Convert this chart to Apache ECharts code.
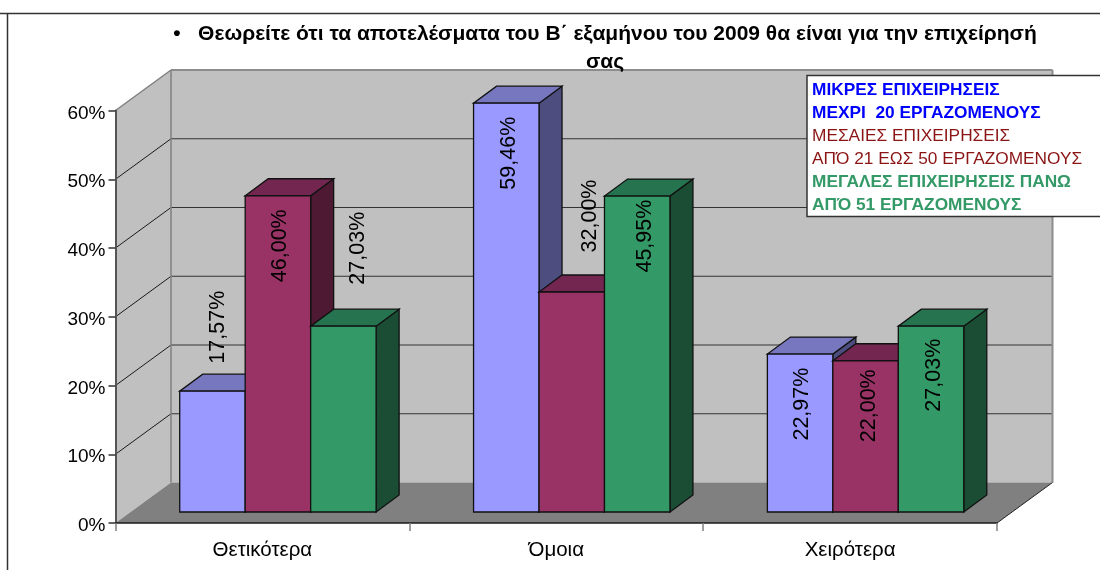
<!DOCTYPE html>
<html>
<head>
<meta charset="utf-8">
<style>html,body{margin:0;padding:0;background:#fff}#c{width:1100px;height:570px}</style>
<script src="https://cdn.jsdelivr.net/npm/echarts@6/dist/echarts.min.js"></script>
</head>
<body>
<div id="c"></div>
<script>
const categories = ['Θετικότερα', 'Όμοια', 'Χειρότερα'];
const small = [17.57, 59.46, 22.97];
const medium = [46.00, 32.00, 22.00];
const large = [27.03, 45.95, 27.03];
const smallName = 'ΜΙΚΡΕΣ ΕΠΙΧΕΙΡΗΣΕΙΣ\nΜΕΧΡΙ  20 ΕΡΓΑΖΟΜΕΝΟΥΣ';
const mediumName = 'ΜΕΣΑΙΕΣ ΕΠΙΧΕΙΡΗΣΕΙΣ\nΑΠΌ 21 ΕΩΣ 50 ΕΡΓΑΖΟΜΕΝΟΥΣ';
const largeName = 'ΜΕΓΑΛΕΣ ΕΠΙΧΕΙΡΗΣΕΙΣ ΠΑΝΩ\nΑΠΌ 51 ΕΡΓΑΖΟΜΕΝΟΥΣ';
const titleText = '•   Θεωρείτε ότι τα αποτελέσματα του Β΄ εξαμήνου του 2009 θα είναι για την επιχείρησή\nσας';
const yTicks = [0, 10, 20, 30, 40, 50, 60];

// hand-placed data label offsets from the bar's top centre [dx, dy], per series and category
const smallLabelOffsets = [[6, -64], [3, 50], [2, 50]];
const mediumLabelOffsets = [[2, 50], [18, -76], [3, 45]];
const largeLabelOffsets = [[15, -78], [8, 40], [3, 49]];

const wallDepth = [55.5, -40.5];
const barInset = [15.5, -11];
const barDepth = [23, -17];
const barRatio = 65.5 / 294;
const fmt = v => v.toFixed(2).replace('.', ',') + '%';

function poly(points, fill, stroke, lw) {
  return { type: 'polygon', shape: { points }, style: { fill, stroke: stroke || null, lineWidth: lw || 0 } };
}
function seg(a, b, stroke, lw) {
  return { type: 'line', shape: { x1: a[0], y1: a[1], x2: b[0], y2: b[1] }, style: { stroke, lineWidth: lw, fill: null } };
}

function renderWalls(params, api) {
  const cs = params.coordSys;
  const x0 = cs.x, x1 = cs.x + cs.width;
  const yAt = v => api.coord([0, v])[1];
  const y0 = yAt(0), yT = yAt(yTicks[yTicks.length - 1]);
  const [dx, dy] = wallDepth;
  const kids = [
    poly([[x0 + dx, yT + dy], [x1 + dx, yT + dy], [x1 + dx, y0 + dy], [x0 + dx, y0 + dy]], '#C0C0C0'),
    poly([[x0, yT], [x0 + dx, yT + dy], [x0 + dx, y0 + dy], [x0, y0]], '#C0C0C0')
  ];
  yTicks.slice(1, -1).forEach(v => {
    const y = yAt(v);
    kids.push(seg([x0, y], [x0 + dx, y + dy], '#1a1a1a', 1));
    kids.push(seg([x0 + dx, y + dy], [x1 + dx, y + dy], '#333333', 1));
  });
  kids.push(poly([[x0, y0], [x1, y0], [x1 + dx, y0 + dy], [x0 + dx, y0 + dy]], '#808080'));
  kids.push(seg([x0, yT], [x0 + dx, yT + dy], '#808080', 1.5));
  kids.push(seg([x0 + dx, yT + dy], [x1 + dx, yT + dy], '#8c8c8c', 2));
  kids.push(seg([x0 + dx, yT + dy], [x0 + dx, y0 + dy], '#808080', 1.5));
  kids.push(seg([x1 + dx, yT + dy], [x1 + dx, y0 + dy], '#8c8c8c', 2));
  kids.push(seg([x1, y0], [x1 + dx, y0 + dy], '#222222', 1));
  return { type: 'group', children: kids };
}

function barRenderer(seriesPos, front, top, side, offsets) {
  return function (params, api) {
    const cat = api.value(0), val = api.value(1);
    const band = api.size([1, 0])[0];
    const w = band * barRatio;
    const base = api.coord([cat, 0]);
    const head = api.coord([cat, val]);
    const L = base[0] + barInset[0] + (seriesPos - 1.5) * w;
    const R = L + w;
    const B = base[1] + barInset[1];
    const T = head[1] + barInset[1];
    const [dx, dy] = barDepth;
    const o = offsets[params.dataIndex];
    const stroke = '#111111';
    return {
      type: 'group',
      children: [
        poly([[R, B], [R + dx, B + dy], [R + dx, T + dy], [R, T]], side, stroke, 1.3),
        poly([[L, T], [R, T], [R + dx, T + dy], [L + dx, T + dy]], top, stroke, 1.3),
        poly([[L, T], [R, T], [R, B], [L, B]], front, stroke, 1.3),
        {
          type: 'text', x: (L + R) / 2 + o[0], y: T + o[1], rotation: Math.PI / 2, z2: 100,
          style: { text: fmt(val), fill: '#000', font: '21.5px "Liberation Sans", Arial, sans-serif', align: 'center', verticalAlign: 'middle' }
        }
      ]
    };
  };
}

function barSeries(name, values, pos, front, top, side, offsets, z) {
  return {
    name, type: 'custom', z, clip: false,
    encode: { x: 0, y: 1 },
    itemStyle: { color: front },
    data: values.map((v, i) => [i, v]),
    renderItem: barRenderer(pos, front, top, side, offsets)
  };
}

const legendItem = (name, color, weight) => ({ name, icon: 'none', itemStyle: { opacity: 0 }, textStyle: { color, fontWeight: weight } });

const chart = echarts.init(document.getElementById('c'), null, { renderer: 'canvas' });
chart.setOption({
  animation: false,
  backgroundColor: '#fff',
  title: {
    text: titleText, left: 600, top: 15, textAlign: 'center',
    textStyle: { fontFamily: '"Liberation Sans", Arial, sans-serif', fontSize: 21, fontWeight: 'bold', color: '#000', lineHeight: 28 }
  },
  grid: { left: 115.5, right: 103, top: 110.5, bottom: 47, containLabel: false },
  xAxis: {
    type: 'category', data: categories, z: 5,
    axisLine: { lineStyle: { color: '#1a1a1a', width: 1.5 } },
    axisTick: { show: true, length: 8, lineStyle: { color: '#808080', width: 1.5 } },
    axisLabel: { color: '#000', fontFamily: '"Liberation Sans", Arial, sans-serif', fontSize: 20.5, margin: 17, interval: 0 },
    splitLine: { show: false }
  },
  yAxis: {
    type: 'value', min: 0, max: 60, interval: 10, z: 5,
    axisLine: { show: true, lineStyle: { color: '#555555', width: 2 } },
    axisTick: { show: true, length: 7, lineStyle: { color: '#333333', width: 1.5 } },
    axisLabel: {
      margin: 10, formatter: v => '{a|' + v + '%}',
      rich: { a: { color: '#000', fontFamily: '"Liberation Sans", Arial, sans-serif', fontSize: 19, padding: [6, 0, 0, 0] } }
    },
    splitLine: { show: false }
  },
  legend: {
    orient: 'vertical', left: 807, top: 75.5, z: 20, selectedMode: false,
    itemWidth: 0, itemHeight: 0, itemGap: 0,
    padding: [3, 60, 0, 5],
    backgroundColor: '#fff', borderColor: '#333', borderWidth: 1.5,
    textStyle: { fontFamily: '"Liberation Sans", Arial, sans-serif', fontSize: 17.3, lineHeight: 23, padding: [0, 0, 0, -5] },
    data: [legendItem(smallName, '#0000FF', 'bold'), legendItem(mediumName, '#8B1414', 'normal'), legendItem(largeName, '#339966', 'bold')]
  },
  graphic: [
    { type: 'line', z: 30, shape: { x1: 0, y1: 13.5, x2: 1100, y2: 13.5 }, style: { stroke: '#333', lineWidth: 1.5 } },
    { type: 'line', z: 30, shape: { x1: 7.5, y1: 13, x2: 7.5, y2: 570 }, style: { stroke: '#333', lineWidth: 1.5 } }
  ],
  series: [
    { type: 'custom', z: 1, silent: true, clip: false, encode: { x: 0, y: 1 }, data: [[0, 0]], renderItem: renderWalls },
    barSeries(smallName, small, 0, '#9999FF', '#7777BF', '#4D4D80', smallLabelOffsets, 2),
    barSeries(mediumName, medium, 1, '#993366', '#732650', '#4D1933', mediumLabelOffsets, 3),
    barSeries(largeName, large, 2, '#339966', '#267350', '#1A4D33', largeLabelOffsets, 4)
  ]
});
</script>
</body>
</html>
